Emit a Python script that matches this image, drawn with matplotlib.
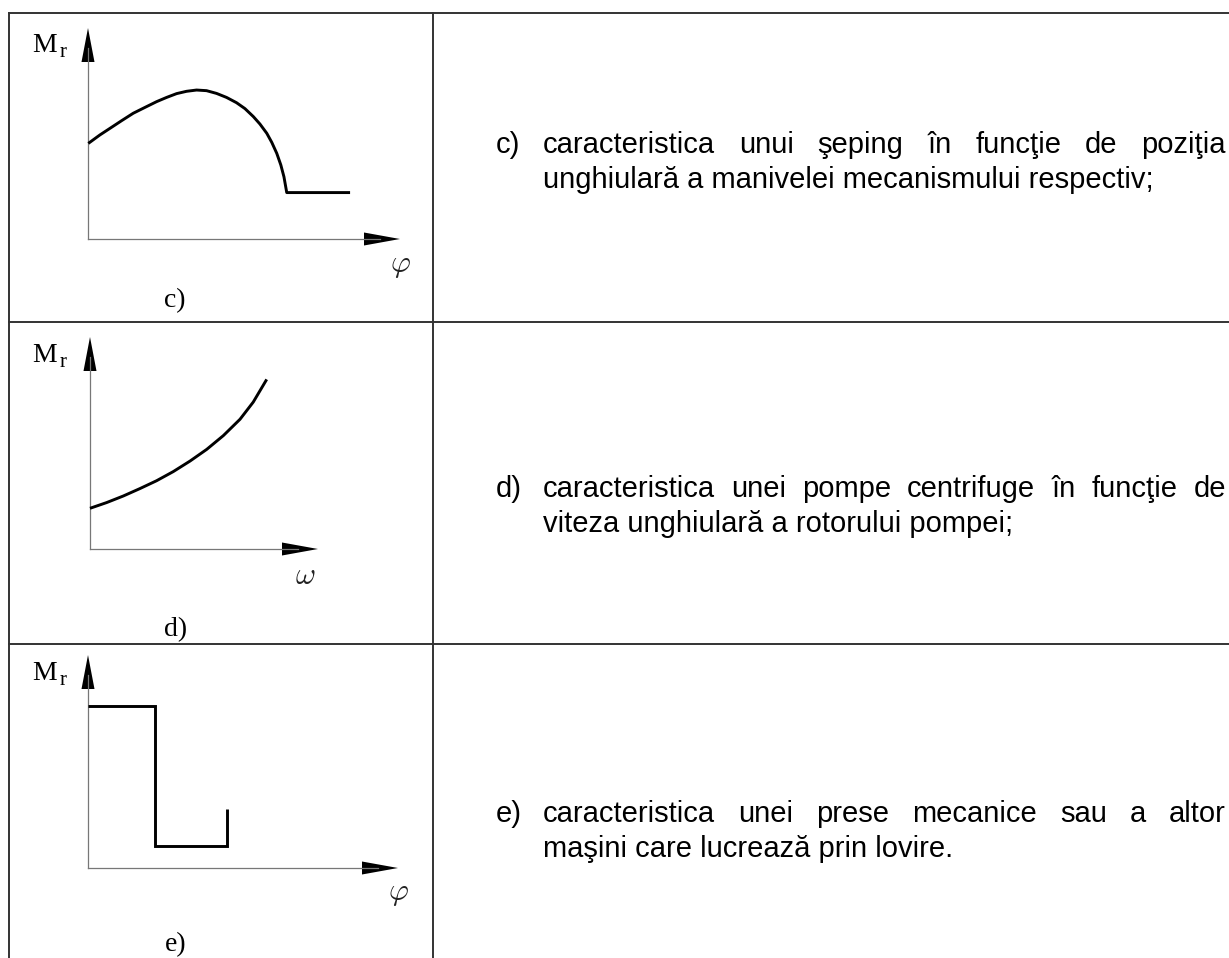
import matplotlib
matplotlib.use("Agg")
import matplotlib.pyplot as plt
from matplotlib.patches import Polygon

W, H = 1229, 958

# curve values, in % of each drawn axis length (origin = 0)
# c) shaping machine: torque vs crank angle
c_phi = [0.1, 3.8, 7.1, 10.8, 14.5, 18.3, 22.0, 25.2, 28.4, 31.6, 34.8, 38.0,
         41.2, 44.4, 47.6, 50.3, 53.0, 55.1, 57.3, 58.9, 60.5, 61.8, 62.8, 63.7, 84.0]
c_mr = [45.3, 49.3, 52.5, 56.1, 59.6, 62.4, 65.1, 67.1, 68.9, 70.0, 70.6, 70.3,
        69.0, 67.1, 64.6, 61.8, 58.0, 54.5, 50.1, 45.8, 40.6, 35.1, 29.5, 22.0, 22.0]

# d) centrifugal pump: torque vs angular speed
d_omega = [0.0, 7.3, 14.6, 21.9, 29.2, 36.5, 43.9, 51.2, 58.5, 65.8, 71.6, 77.5]
d_mr = [19.2, 21.9, 25.0, 28.5, 32.2, 36.5, 41.5, 47.0, 53.5, 61.2, 69.3, 80.0]

# e) mechanical press: torque vs angle
e_phi = [0.0, 21.6, 21.6, 44.8, 44.8]
e_mr = [76.1, 76.1, 10.3, 10.3, 27.7]

panel_labels = ["c)", "d)", "e)"]
x_symbols = [r"$\varphi$", r"$\omega$", r"$\varphi$"]
descriptions = [
    ["caracteristica unui şeping în funcţie de poziţia",
     "unghiulară a manivelei mecanismului respectiv;"],
    ["caracteristica unei pompe centrifuge în funcţie de",
     "viteza unghiulară a rotorului pompei;"],
    ["caracteristica unei prese mecanice sau a altor",
     "maşini care lucrează prin lovire."],
]

plt.rcParams["mathtext.fontset"] = "cm"

fig = plt.figure(figsize=(W / 100, H / 100), dpi=100)
ax0 = fig.add_axes([0, 0, 1, 1])
ax0.set_xlim(0, W)
ax0.set_ylim(H, 0)
ax0.axis("off")

# table grid
line_col = "#333333"
ax0.plot([9, W], [13, 13], color=line_col, lw=1.4)
ax0.plot([9, W], [322, 322], color=line_col, lw=1.4)
ax0.plot([9, W], [644, 644], color=line_col, lw=1.4)
ax0.plot([9, 9], [13, H], color=line_col, lw=1.4)
ax0.plot([433, 433], [13, H], color=line_col, lw=1.4)

# layout of each small diagram (pixels)
panels = [
    dict(ox=88, oy=239, ytip=28, xtip=400, sym=(400, 266), lab=(175, 307), m=52),
    dict(ox=90, oy=549, ytip=337, xtip=318, sym=(305, 575), lab=(176, 636), m=362),
    dict(ox=88, oy=868, ytip=655, xtip=398, sym=(398, 894), lab=(176, 951), m=680),
]
curves = [(c_phi, c_mr), (d_omega, d_mr), (e_phi, e_mr)]

for i, p in enumerate(panels):
    ox, oy, yt, xt = p["ox"], p["oy"], p["ytip"], p["xtip"]
    ax = fig.add_axes([ox / W, 1 - oy / H, (xt - ox) / W, (oy - yt) / H])
    ax.set_xlim(0, 100)
    ax.set_ylim(0, 100)
    ax.axis("off")
    xs, ys = curves[i]
    ax.plot(xs, ys, color="black", lw=2.1, clip_on=False,
            solid_joinstyle="miter" if i == 2 else "round", solid_capstyle="butt")

    # axes with arrow heads
    ax0.plot([ox, ox], [oy, yt + 20], color="#777777", lw=0.9)
    ax0.plot([ox, xt - 20], [oy, oy], color="#777777", lw=0.9)
    ax0.add_patch(Polygon([(ox, yt), (ox - 6.5, yt + 34), (ox + 6.5, yt + 34)],
                          closed=True, color="black", lw=0))
    ax0.add_patch(Polygon([(xt, oy), (xt - 36, oy - 6.5), (xt - 36, oy + 6.5)],
                          closed=True, color="black", lw=0))

    ax0.text(32, p["m"], "M", family="Liberation Serif", fontsize=20, va="baseline")
    ax0.text(60, p["m"] + 5, "r", family="Liberation Serif", fontsize=15, va="baseline")
    ax0.text(p["sym"][0], p["sym"][1], x_symbols[i], fontsize=22, color="#222222",
             ha="center", va="center")
    ax0.text(p["lab"][0], p["lab"][1], panel_labels[i], family="Liberation Serif",
             fontsize=20, ha="center", va="baseline")

# right column text, first line justified
fig.canvas.draw()
renderer = fig.canvas.get_renderer()
txt_kw = dict(family="Liberation Sans", fontsize=21, va="baseline")
baselines = [153, 497, 822]
x_label, x_body, x_right, lead = 496, 543, 1226, 35

for i, lines in enumerate(descriptions):
    y = baselines[i]
    ax0.text(x_label, y, panel_labels[i], **txt_kw)
    words = lines[0].split()
    texts = [ax0.text(0, y, w, **txt_kw) for w in words]
    widths = [t.get_window_extent(renderer).width for t in texts]
    gap = (x_right - x_body - sum(widths)) / (len(words) - 1)
    x = x_body
    for t, w in zip(texts, widths):
        t.set_x(x)
        x += w + gap
    ax0.text(x_body, y + lead, lines[1], **txt_kw)

fig.savefig("out.png", dpi=100)
